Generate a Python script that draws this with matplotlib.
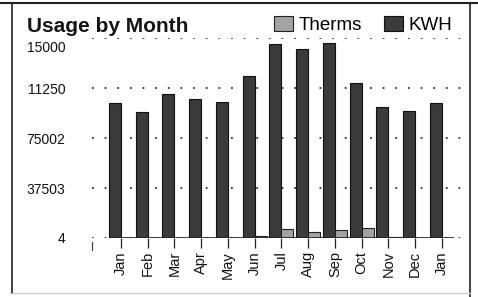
import numpy as np
import matplotlib
matplotlib.use('Agg')
from matplotlib import pyplot as plt

plt.rcParams['font.family'] = ['Liberation Sans', 'DejaVu Sans']

# 数据
months = ['Jan', 'Feb', 'Mar', 'Apr', 'May', 'Jun', 'Jul',
          'Aug', 'Sep', 'Oct', 'Nov', 'Dec', 'Jan']
kwh = [10100, 9450, 10800, 10450, 10200, 12150, 14550,
       14200, 14650, 11650, 9850, 9550, 10150]
therms = [20, 20, 20, 20, 20, 150, 680, 450, 600, 750, 50, 20, 20]
ytick_vals = [4, 3750, 7500, 11250, 15000]
ytick_labels = ['4', '37503', '75002', '11250', '15000']

fig = plt.figure(figsize=(4.78, 2.97), dpi=100)
ax = fig.add_axes([92 / 478, 1 - 238 / 297, 373 / 478, 200 / 297])

x = np.arange(len(months))
w = 0.45
ax.bar(x - w / 2, kwh, w, color='#3a3a3a', edgecolor='#111111', linewidth=0.8,
       label='KWH', zorder=3)
ax.bar(x + w / 2, therms, w, color='#a3a3a3', edgecolor='#222222', linewidth=0.8,
       label='Therms', zorder=3)

ax.set_xlim(-1.08, 12.86)
ax.set_ylim(0, 15000)

# 网格(点线)
ax.set_yticks(ytick_vals)
ax.set_yticklabels(ytick_labels)
ax.grid(axis='y', color='#333333', linestyle=(0, (1, 6)), linewidth=1.3, zorder=0)
ax.grid(axis='x', visible=False)
ax.tick_params(axis='y', length=0, pad=19, labelsize=10, labelcolor='#111111')
# 最上面的标签稍微往下移
lab = ax.get_yticklabels()[-1]
lab.set_transform(lab.get_transform() +
                  matplotlib.transforms.ScaledTranslation(0, -8 / 100, fig.dpi_scale_trans))

ax.set_xticks(x)
ax.set_xticklabels(months, rotation=90)
ax.tick_params(axis='x', direction='out', length=7.5, width=0.9, color='#222222',
               pad=2, labelsize=10.5, labelcolor='#111111')

for s in ax.spines.values():
    s.set_visible(False)
ax.hlines(0, x[0] - w, x[-1] + w, color='#222222', linewidth=1.2, zorder=4)
# 左端的小竖线
ax.plot([-1.08, -1.08], [-300, -900], color='#444444', linewidth=0.9, clip_on=False)

# 标题和图例
fig.text(27 / 478, 1 - 26 / 297, 'Usage by Month', fontsize=15, fontweight='bold',
         va='center', ha='left', color='#151515')
h, l = ax.get_legend_handles_labels()
fig.legend(h[::-1], l[::-1], loc='center left', bbox_to_anchor=(274 / 478, 1 - 25 / 297),
           ncol=2, frameon=False, fontsize=13.5, handlelength=1.0, handleheight=0.85,
           handletextpad=0.3, columnspacing=1.2, borderpad=0, borderaxespad=0)

# 外框
fig.add_artist(plt.Line2D([0, 1], [1 - 3 / 297] * 2, color='#222222', linewidth=1.5))
fig.add_artist(plt.Line2D([12 / 478] * 2, [1 - 293 / 297, 1 - 3 / 297], color='#222222', linewidth=1.2))
fig.add_artist(plt.Line2D([470 / 478] * 2, [0, 1 - 3 / 297], color='#222222', linewidth=1.2))
fig.add_artist(plt.Line2D([12 / 478, 470 / 478], [1 - 293 / 297] * 2, color='#cccccc', linewidth=1))

plt.savefig('out.png', dpi=100)
